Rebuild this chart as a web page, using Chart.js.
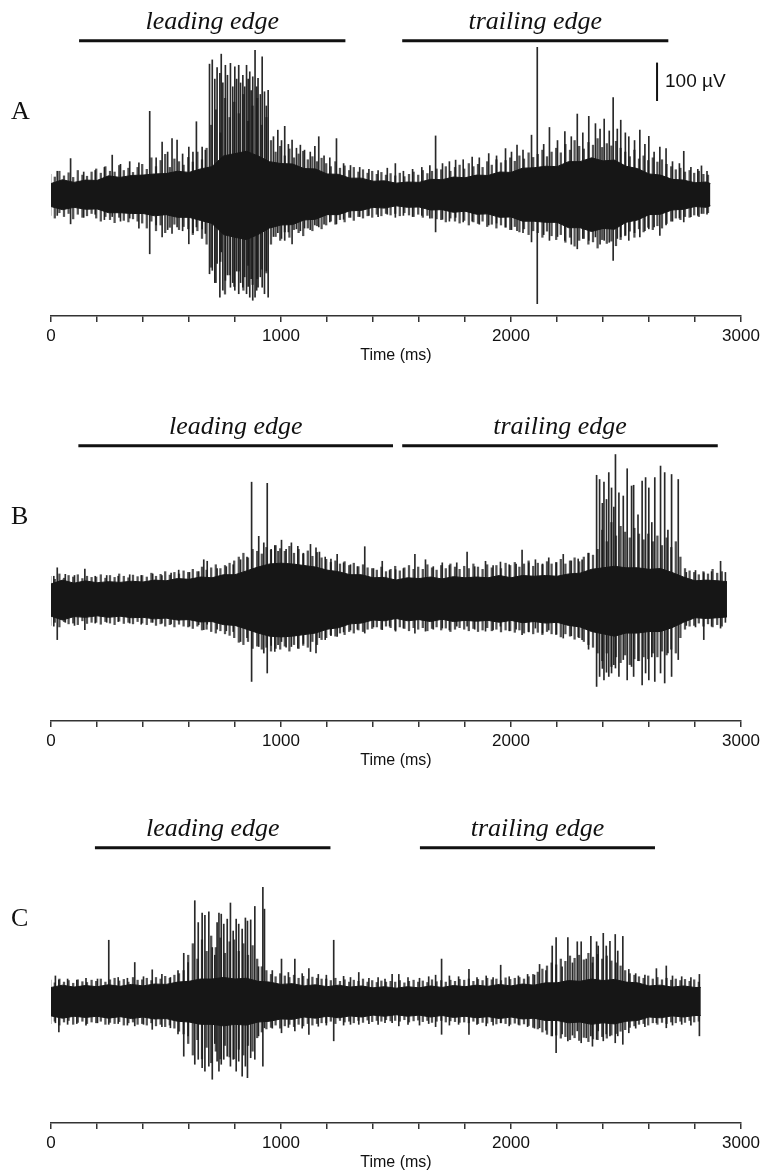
<!DOCTYPE html>
<html lang="en">
<head>
  <meta charset="UTF-8">
  <title>Extracellular recordings, leading and trailing edge</title>
  <script src="https://cdn.jsdelivr.net/npm/chart.js"></script>
  <style>
    body { margin: 0; background: #ffffff; width: 771px; height: 1174px; overflow: hidden; position: relative; }
    .panel { position: absolute; left: 0; width: 771px; height: 372px; }
  </style>
</head>
<body>
  <div class="panel" style="top:0px"><canvas id="chartA" width="771" height="372"></canvas></div>
  <div class="panel" style="top:405px"><canvas id="chartB" width="771" height="372"></canvas></div>
  <div class="panel" style="top:807px"><canvas id="chartC" width="771" height="372"></canvas></div>

  <script>
    // ---- data (µV / ms) ----
    const envStepMs = 50;    // dense core of the trace, read every 50 ms
    const hairStepMs = 20;   // largest excursion in each 20 ms bin

    // Panel A
    const traceEndA = 2867;
    const envUpperA = [28, 38, 31, 37, 36, 48, 44, 49, 50, 53, 54, 60, 57, 66, 72, 100, 106, 112, 100, 85,
                       80, 79, 67, 66, 53, 52, 42, 42, 34, 35, 29, 32, 31, 39, 38, 45, 43, 50, 49, 58,
                       57, 68, 69, 73, 72, 85, 85, 95, 87, 89, 73, 67, 53, 50, 39, 37, 30, 32, 28];
    const envLowerA = [-32, -40, -34, -39, -38, -48, -48, -50, -50, -56, -53, -60, -60, -68, -76, -105, -112, -118, -105, -88,
                       -80, -79, -67, -65, -53, -53, -43, -42, -34, -36, -30, -34, -33, -41, -40, -47, -44, -52, -51, -60,
                       -59, -70, -70, -73, -73, -87, -87, -97, -89, -91, -73, -67, -53, -52, -41, -39, -32, -34, -30];
    const hairUpA = [52, 45, 60, 48, 56, 44, 62, 50, 47, 58,
                     66, 55, 72, 60, 58, 75, 62, 68, 57, 70,
                     78, 65, 95, 72, 88, 104, 70, 92, 85, 76,
                     96, 84, 110, 90, 120,
                     180, 220, 160, 250, 200, 240, 210, 260, 190, 230, 250, 180, 200,
                     140, 110, 125, 100, 118, 95, 105, 112, 90, 98, 85, 94,
                     80, 72, 85, 68, 74, 62, 70, 58, 64, 55, 60, 52, 57, 50, 54,
                     48, 55, 46, 52, 58, 50, 62, 54, 60, 66,
                     64, 72, 60, 70, 76, 66, 80, 72, 78, 70, 85, 76, 90, 82, 88,
                     95, 86, 100, 92, 108, 96, 104, 115, 98, 110,
                     120, 108, 130, 115, 140, 125, 118, 135, 128, 145, 122, 132, 126, 138, 120,
                     110, 98, 115, 92, 100, 88, 95, 84, 90, 78,
                     72, 64, 68, 58, 62, 55, 60, 52, 50];
    const hairDownA = [-55, -62, -48, -58, -50, -64, -52, -60, -56, -50,
                       -62, -70, -58, -66, -74, -60, -68, -72, -64, -70,
                       -75, -88, -70, -95, -80, -100, -86, -78, -92, -84,
                       -90, -105, -95, -115, -130,
                       -190, -230, -175, -260, -210, -240, -200, -250, -185, -235, -220, -195, -205,
                       -130, -110, -120, -98, -112, -92, -100, -108, -88, -95, -82, -90,
                       -80, -70, -78, -66, -72, -60, -68, -58, -62, -56, -60, -52, -56, -50, -54,
                       -50, -56, -48, -54, -58, -52, -60, -55, -62, -64,
                       -66, -72, -62, -70, -75, -68, -80, -72, -76, -70, -84, -78, -88, -80, -86,
                       -92, -84, -98, -90, -105, -95, -100, -112, -96, -108,
                       -118, -105, -125, -112, -135, -120, -115, -130, -124, -140, -118, -128, -122, -134, -118,
                       -108, -96, -112, -90, -98, -86, -92, -82, -88, -76,
                       -70, -62, -66, -58, -60, -54, -58, -50, -48];
    const spikeTimesA = [25, 83, 140, 190, 230, 264, 300, 340, 380, 427, 455, 481, 505, 524, 546, 570, 597, 615, 630, 655, 669,
                         687, 699, 710, 720, 732, 738, 745, 756, 765, 778, 788, 797, 805, 814, 822, 832, 840, 848, 855, 862, 868, 875, 885, 892, 898, 908, 916, 926, 934, 942,
                         965, 984, 1000, 1014, 1030, 1046, 1065, 1082, 1100, 1125, 1145, 1162, 1185, 1210, 1239, 1270, 1300, 1340, 1380, 1420, 1460, 1495,
                         1530, 1570, 1610, 1645, 1670, 1700, 1730, 1757, 1790, 1829, 1860, 1901, 1935, 1974, 2000, 2024, 2050, 2087, 2112, 2140, 2165, 2200,
                         2232, 2260, 2286, 2310, 2336, 2365, 2385, 2403, 2425, 2442, 2460, 2475, 2495, 2510, 2535, 2558, 2580, 2597, 2620, 2645, 2672, 2700,
                         2730, 2749, 2780, 2810, 2826, 2850];
    const spikeUpA = [60, 93, 58, 62, 70, 102, 78, 85, 82, 216, 95, 136, 110, 145, 141, 105, 123, 110, 189, 123, 115,
                      339, 350, 300, 330, 315, 365, 290, 336, 310, 341, 280, 332, 300, 336, 290, 310, 280, 336, 300, 319, 270, 306, 375, 280, 302, 260, 358, 267, 230, 271,
                      150, 167, 140, 177, 130, 141, 120, 128, 115, 110, 125, 150, 100, 95, 145, 80, 75, 70, 65, 62, 68, 80,
                      60, 65, 70, 75, 152, 80, 85, 89, 90, 97, 95, 106, 100, 119, 110, 128, 115, 154, 383, 130, 174, 140,
                      163, 150, 209, 160, 203, 184, 170, 196, 165, 252, 170, 193, 160, 150, 140, 167, 130, 151, 110, 123, 119, 85,
                      80, 112, 70, 65, 74, 60];
    const spikeDownA = [-55, -77, -60, -52, -66, -58, -70, -62, -88, -155, -80, -111, -92, -102, -85, -95, -129, -100, -85, -90, -102,
                        -207, -198, -230, -180, -268, -150, -250, -224, -210, -242, -230, -250, -200, -259, -230, -242, -215, -259, -240, -268, -220, -276, -268, -250, -242, -215, -242, -259, -200, -268,
                        -110, -100, -115, -120, -98, -129, -90, -95, -88, -92, -80, -85, -78, -72, -77, -65, -60, -58, -55, -58, -52, -60,
                        -55, -58, -55, -62, -98, -65, -70, -60, -72, -70, -78, -80, -75, -85, -92, -95, -100, -124, -285, -105, -120, -110,
                        -120, -130, -142, -115, -120, -111, -130, -120, -125, -172, -115, -111, -105, -120, -100, -111, -95, -90, -85, -107, -80, -70,
                        -62, -72, -58, -55, -50, -52];
    const leadingA = [122, 1280];
    const trailingA = [1527, 2684];

    // Panel B
    const traceEndB = 2939;
    const envUpperB = [40, 50, 42, 48, 43, 46, 44, 47, 45, 50, 48, 54, 52, 58, 56, 64, 64, 74, 84, 92,
                       94, 92, 88, 84, 76, 72, 64, 64, 56, 57, 50, 56, 54, 58, 53, 59, 56, 58, 56, 62,
                       56, 62, 60, 62, 60, 66, 68, 78, 82, 86, 82, 82, 78, 80, 70, 58, 48, 50, 48, 46];
    const envLowerB = [-44, -54, -45, -47, -43, -47, -44, -48, -47, -51, -49, -54, -53, -59, -58, -66, -68, -78, -88, -96,
                       -98, -96, -92, -88, -78, -74, -64, -62, -54, -56, -50, -56, -53, -58, -52, -58, -55, -57, -55, -60,
                       -55, -61, -58, -62, -60, -68, -72, -84, -90, -96, -88, -88, -84, -84, -74, -60, -48, -50, -48, -46];
    const hairUpB = [60, 52, 66, 55, 62, 58, 64, 54, 60, 57,
                     58, 64, 55, 62, 57, 66, 60, 56, 63, 59,
                     62, 58, 68, 60, 65, 72, 63, 70, 66, 74,
                     70, 78, 72, 84, 76, 82, 90, 80, 88, 94,
                     100, 110, 120, 108, 130, 125, 118, 135, 128, 140,
                     132, 125, 138, 120, 130, 118, 126, 112, 122, 108,
                     104, 96, 100, 92, 98, 88, 94, 85, 90, 82,
                     80, 76, 84, 72, 78, 86, 74, 82, 88, 78,
                     84, 78, 90, 82, 76, 88, 80, 92, 84, 78,
                     86, 80, 92, 84, 78, 90, 82, 88, 80, 94,
                     88, 96, 84, 92, 100, 86, 94, 90, 98, 92,
                     96, 104, 92, 100, 108, 98, 110, 120, 115, 130,
                     180, 150, 200, 165, 190, 175, 160, 185, 170, 155,
                     170, 150, 165, 140, 160, 135, 150, 110, 80, 74,
                     70, 64, 72, 66, 78, 68, 72];
    const hairDownB = [-68, -60, -72, -58, -64, -62, -66, -56, -63, -60,
                       -60, -65, -58, -62, -66, -57, -63, -60, -64, -58,
                       -62, -66, -60, -68, -64, -70, -66, -72, -65, -70,
                       -72, -76, -70, -80, -78, -84, -88, -82, -90, -94,
                       -100, -112, -118, -110, -128, -122, -130, -125, -135, -128,
                       -130, -122, -135, -118, -128, -120, -125, -110, -118, -105,
                       -100, -92, -96, -88, -92, -84, -88, -80, -84, -78,
                       -76, -72, -78, -70, -74, -80, -72, -76, -82, -74,
                       -78, -74, -82, -76, -72, -80, -75, -84, -78, -74,
                       -78, -82, -76, -84, -80, -74, -82, -78, -85, -80,
                       -82, -86, -80, -88, -84, -90, -86, -92, -84, -90,
                       -92, -98, -90, -96, -104, -100, -110, -118, -125, -140,
                       -160, -140, -175, -150, -165, -145, -170, -155, -160, -150,
                       -155, -140, -150, -135, -145, -130, -140, -100, -78, -70,
                       -68, -62, -70, -64, -72, -66, -70];
    const spikeTimesB = [10, 25, 60, 100, 145, 190, 240, 290, 340, 390, 440, 480, 520, 553, 600, 640, 662, 677, 720, 760, 790, 822, 850,
                         870, 901, 923, 938, 955, 971, 985, 1000, 1020, 1043, 1071, 1095, 1126, 1150, 1165, 1190, 1215, 1242, 1270, 1300, 1330, 1362, 1400, 1438, 1470, 1496,
                         1530, 1580, 1626, 1660, 1699, 1730, 1762, 1807, 1840, 1887, 1920, 1952, 1990, 2020, 2046, 2075, 2104, 2135, 2162, 2195, 2225, 2260, 2290, 2307, 2335,
                         2370, 2383, 2395, 2402, 2413, 2423, 2435, 2445, 2452, 2467, 2486, 2503, 2522, 2531, 2550, 2568, 2583, 2597, 2610, 2623, 2648, 2666, 2680, 2696, 2725,
                         2760, 2800, 2836, 2870, 2909, 2930];
    const spikeUpB = [60, 82, 65, 62, 79, 60, 62, 60, 64, 62, 66, 62, 68, 76, 70, 72, 103, 99, 80, 85, 90, 103, 110,
                      305, 164, 147, 302, 130, 140, 125, 154, 130, 147, 138, 120, 143, 134, 123, 110, 105, 117, 95, 90, 85, 137, 80, 99, 75, 77,
                      80, 117, 103, 85, 95, 88, 95, 123, 85, 99, 88, 97, 90, 92, 128, 95, 103, 92, 108, 95, 117, 100, 105, 103, 120,
                      323, 312, 250, 305, 260, 330, 290, 240, 377, 277, 269, 340, 295, 297, 220, 308, 317, 290, 200, 317, 347, 330, 180, 325, 312,
                      70, 75, 69, 72, 99, 70];
    const spikeDownB = [-70, -105, -60, -68, -79, -62, -60, -58, -62, -65, -60, -62, -64, -55, -70, -66, -79, -65, -78, -82, -84, -110, -100,
                        -214, -123, -140, -192, -120, -136, -118, -110, -125, -123, -127, -115, -136, -140, -100, -105, -95, -97, -85, -80, -78, -88, -72, -79, -70, -83,
                        -75, -88, -83, -78, -75, -80, -70, -70, -78, -83, -80, -70, -82, -78, -92, -85, -75, -88, -80, -90, -101, -95, -98, -105, -130,
                        -227, -201, -180, -210, -190, -201, -192, -170, -179, -201, -157, -210, -175, -201, -160, -223, -192, -210, -150, -214, -192, -218, -140, -201, -157,
                        -68, -72, -105, -70, -75, -60];
    const leadingB = [119, 1487];
    const trailingB = [1527, 2899];

    // Panel C
    const traceEndC = 2825;
    const envUpperC = [36, 42, 37, 41, 38, 43, 39, 44, 40, 45, 44, 50, 52, 58, 58, 62, 58, 60, 52, 50,
                       44, 46, 40, 43, 38, 42, 37, 40, 35, 38, 34, 38, 35, 40, 36, 41, 38, 42, 39, 44,
                       40, 45, 42, 48, 48, 54, 52, 58, 54, 57, 50, 48, 40, 42, 37, 40, 36, 36];
    const envLowerC = [-38, -44, -39, -42, -39, -44, -40, -45, -41, -46, -45, -52, -54, -60, -60, -64, -60, -62, -54, -52,
                       -46, -47, -41, -44, -39, -43, -38, -41, -36, -39, -35, -39, -36, -41, -37, -42, -39, -43, -40, -45,
                       -41, -46, -44, -50, -50, -56, -54, -60, -56, -59, -52, -50, -41, -43, -38, -41, -37, -37];
    const hairUpC = [55, 48, 58, 50, 54, 47, 56, 51, 49, 55,
                     52, 58, 50, 56, 60, 53, 57, 50, 62, 55,
                     56, 60, 54, 62, 58, 65, 60, 68, 72, 80,
                     120, 150, 110, 160, 130, 170, 140, 165, 125, 155,
                     160, 130, 150, 120, 145, 110, 90, 80,
                     70, 64, 72, 66, 62, 68, 60, 65, 58, 63, 60, 58,
                     58, 54, 60, 52, 56, 50, 55, 52, 58, 50, 54, 49, 53, 50, 52,
                     50, 54, 48, 52, 55, 50, 53, 49, 56, 51, 54, 50, 55, 52, 57,
                     55, 58, 52, 57, 54, 60, 56, 58, 54, 61, 57, 60, 62, 58, 64,
                     70, 76, 84, 92, 100, 95, 110, 104, 118, 112, 120, 108, 125, 115, 122, 110, 118, 105, 100, 92,
                     80, 72, 68, 64, 60, 66, 58, 62, 56, 60, 55, 58, 54, 57, 52, 56, 50];
    const hairDownC = [-58, -52, -62, -54, -50, -60, -55, -52, -58, -54,
                       -56, -52, -60, -55, -58, -53, -62, -56, -54, -60,
                       -58, -62, -56, -64, -60, -66, -62, -70, -78, -85,
                       -110, -140, -100, -150, -120, -160, -130, -150, -115, -145,
                       -150, -125, -140, -115, -130, -95, -80, -72,
                       -68, -62, -70, -64, -60, -66, -60, -64, -58, -62, -58, -56,
                       -56, -52, -58, -50, -54, -52, -56, -50, -55, -49, -53, -50, -52, -48, -51,
                       -50, -52, -48, -54, -51, -49, -53, -50, -55, -52, -50, -54, -51, -53, -55,
                       -54, -56, -52, -58, -55, -57, -53, -59, -56, -58, -60, -57, -62, -59, -63,
                       -68, -72, -80, -86, -90, -88, -96, -92, -100, -95, -102, -94, -105, -98, -100, -92, -96, -88, -84, -78,
                       -74, -68, -64, -60, -58, -62, -56, -60, -55, -58, -54, -56, -52, -55, -50, -54, -52];
    const spikeTimesC = [17, 32, 70, 110, 150, 200, 249, 290, 330, 362, 400, 438, 480, 517, 550, 575, 594,
                         623, 638, 655, 667, 684, 699, 710, 720, 728, 738, 749, 764, 778, 790, 803, 814, 829, 843, 852, 866, 884, 900, 919, 926,
                         960, 1000, 1030, 1058, 1090, 1119, 1160, 1195, 1227, 1270, 1300, 1336, 1380, 1420, 1450, 1481,
                         1510, 1550, 1600, 1640, 1670, 1696, 1730, 1770, 1815, 1850, 1890, 1920, 1953, 1990, 2030, 2070, 2100, 2122, 2150,
                         2177, 2194, 2220, 2245, 2265, 2286, 2303, 2325, 2345, 2352, 2370, 2377, 2399, 2412, 2428, 2451, 2462, 2484,
                         2510, 2540, 2580, 2630, 2673, 2700, 2740, 2780, 2817];
    const spikeUpC = [66, 55, 58, 55, 60, 58, 159, 62, 60, 101, 64, 82, 70, 62, 80, 125, 101,
                      262, 205, 230, 224, 233, 140, 120, 205, 230, 227, 201, 214, 256, 183, 214, 201, 188, 217, 209, 212, 247, 90, 297, 240,
                      80, 110, 75, 110, 72, 85, 70, 68, 159, 65, 62, 75, 60, 62, 58, 70,
                      70, 62, 60, 64, 68, 110, 66, 64, 83, 62, 66, 62, 94, 64, 66, 70, 68, 96, 80,
                      144, 166, 90, 166, 100, 155, 155, 110, 169, 100, 155, 144, 177, 144, 156, 174, 131, 169,
                      83, 72, 68, 85, 92, 66, 64, 62, 70];
    const spikeDownC = [-56, -80, -60, -58, -62, -56, -60, -58, -62, -64, -60, -73, -66, -69, -85, -143, -90,
                        -164, -151, -173, -182, -169, -203, -110, -156, -182, -164, -151, -143, -169, -151, -182, -156, -195, -169, -199, -147, -151, -90, -169, -69,
                        -70, -82, -68, -77, -70, -86, -65, -62, -103, -62, -60, -60, -58, -60, -56, -56,
                        -64, -60, -62, -58, -66, -86, -62, -60, -86, -60, -64, -62, -56, -64, -60, -66, -70, -69, -75,
                        -90, -134, -85, -103, -88, -77, -108, -95, -90, -117, -99, -77, -103, -85, -90, -108, -90, -112,
                        -82, -70, -66, -56, -69, -62, -60, -62, -90];
    const leadingC = [191, 1215];
    const trailingC = [1604, 2626];

    // scale bar (panel A only)
    const scaleBarUV = 100;
    const scaleBarAt = { t: 2635, base: 243 };

    // ---- layout / style ----
    const Y_MIN = -317, Y_MAX = 493;
    const EDGE_LEVEL = 400;           // µV height at which the edge bars sit
    const INK = '#161616';
    const AXIS = '#333333';

    const envelope = (vals, endMs) => vals.map((v, i) => ({ x: Math.min(i * envStepMs, endMs), y: v }));
    const bins = (ups, downs) => ups.map((u, i) => ({ x: i * hairStepMs, y: [downs[i], u] }));
    const spikes = (ts, ups, downs) => ts.map((t, i) => ({ x: t, y: [downs[i], ups[i]] }));
    const segment = (range) => [{ x: range[0], y: EDGE_LEVEL }, { x: range[1], y: EDGE_LEVEL }];

    // draws the panel letter, edge captions and scale bar text
    const annotPlugin = {
      id: 'annot',
      afterDatasetsDraw(chart, args, opts) {
        const { ctx } = chart;
        const x = chart.scales.x, y = chart.scales.y;
        ctx.save();
        ctx.fillStyle = '#111';
        ctx.textBaseline = 'alphabetic';
        ctx.font = 'italic 26px "Liberation Serif", "Times New Roman", serif';
        ctx.textAlign = 'center';
        opts.edges.forEach(e => {
          const cx = x.getPixelForValue((e.range[0] + e.range[1]) / 2);
          ctx.fillText(e.label, cx, y.getPixelForValue(EDGE_LEVEL) - 12);
        });
        ctx.font = '26px "Liberation Serif", "Times New Roman", serif';
        ctx.textAlign = 'left';
        ctx.fillText(opts.letter, 11, y.getPixelForValue(0) - 75);
        if (opts.scaleBar) {
          ctx.font = '19px "Liberation Sans", Arial, sans-serif';
          ctx.textBaseline = 'middle';
          const mid = y.getPixelForValue(scaleBarAt.base + scaleBarUV / 2);
          ctx.fillText(scaleBarUV + ' µV', x.getPixelForValue(scaleBarAt.t) + 8, mid);
        }
        ctx.restore();
      }
    };

    function makePanel(id, p) {
      const datasets = [
        { type: 'line', data: envelope(p.upper, p.end), borderColor: INK, backgroundColor: INK, borderWidth: 1,
          pointRadius: 0, fill: '+1', tension: 0 },
        { type: 'line', data: envelope(p.lower, p.end), borderColor: INK, borderWidth: 1, pointRadius: 0, fill: false, tension: 0 },
        { type: 'bar', data: bins(p.hairUp, p.hairDown), backgroundColor: 'rgba(24,24,24,0.75)', barThickness: 1.6, borderWidth: 0 },
        { type: 'bar', data: spikes(p.times, p.ups, p.downs), backgroundColor: 'rgba(18,18,18,0.9)', barThickness: 1, borderWidth: 0 },
        { type: 'line', data: segment(p.leading), borderColor: '#111', borderWidth: 3, pointRadius: 0, fill: false },
        { type: 'line', data: segment(p.trailing), borderColor: '#111', borderWidth: 3, pointRadius: 0, fill: false }
      ];
      if (p.scaleBar) {
        datasets.push({ type: 'line',
          data: [{ x: scaleBarAt.t, y: scaleBarAt.base }, { x: scaleBarAt.t, y: scaleBarAt.base + scaleBarUV }],
          borderColor: '#111', borderWidth: 2, pointRadius: 0, fill: false });
      }
      return new Chart(document.getElementById(id), {
        type: 'line',
        data: { datasets },
        plugins: [annotPlugin],
        options: {
          responsive: false,
          animation: false,
          layout: { padding: { left: 51, right: 30, top: 5, bottom: 10 } },
          plugins: {
            legend: { display: false },
            tooltip: { enabled: false },
            annot: {
              letter: p.letter,
              scaleBar: p.scaleBar,
              edges: [{ label: 'leading edge', range: p.leading }, { label: 'trailing edge', range: p.trailing }]
            }
          },
          scales: {
            x: {
              type: 'linear', min: 0, max: 3000, offset: false,
              ticks: {
                stepSize: 200, autoSkip: false, maxRotation: 0, padding: 4, color: '#111',
                font: { family: '"Liberation Sans", Arial, sans-serif', size: 17 },
                callback: v => (v % 1000 === 0 ? v : '')
              },
              grid: { offset: false, drawOnChartArea: false, drawTicks: true, tickLength: 6, color: AXIS, lineWidth: 1.5 },
              border: { display: true, color: AXIS, width: 1.5 },
              title: { display: true, text: 'Time (ms)', color: '#111', padding: { top: 0, bottom: 2 },
                       font: { family: '"Liberation Sans", Arial, sans-serif', size: 16, lineHeight: 0.6 } }
            },
            y: { display: false, min: Y_MIN, max: Y_MAX }
          }
        }
      });
    }

    makePanel('chartA', { letter: 'A', upper: envUpperA, lower: envLowerA, end: traceEndA,
      hairUp: hairUpA, hairDown: hairDownA,
      times: spikeTimesA, ups: spikeUpA, downs: spikeDownA, leading: leadingA, trailing: trailingA, scaleBar: true });
    makePanel('chartB', { letter: 'B', upper: envUpperB, lower: envLowerB, end: traceEndB,
      hairUp: hairUpB, hairDown: hairDownB,
      times: spikeTimesB, ups: spikeUpB, downs: spikeDownB, leading: leadingB, trailing: trailingB, scaleBar: false });
    makePanel('chartC', { letter: 'C', upper: envUpperC, lower: envLowerC, end: traceEndC,
      hairUp: hairUpC, hairDown: hairDownC,
      times: spikeTimesC, ups: spikeUpC, downs: spikeDownC, leading: leadingC, trailing: trailingC, scaleBar: false });
  </script>
</body>
</html>
